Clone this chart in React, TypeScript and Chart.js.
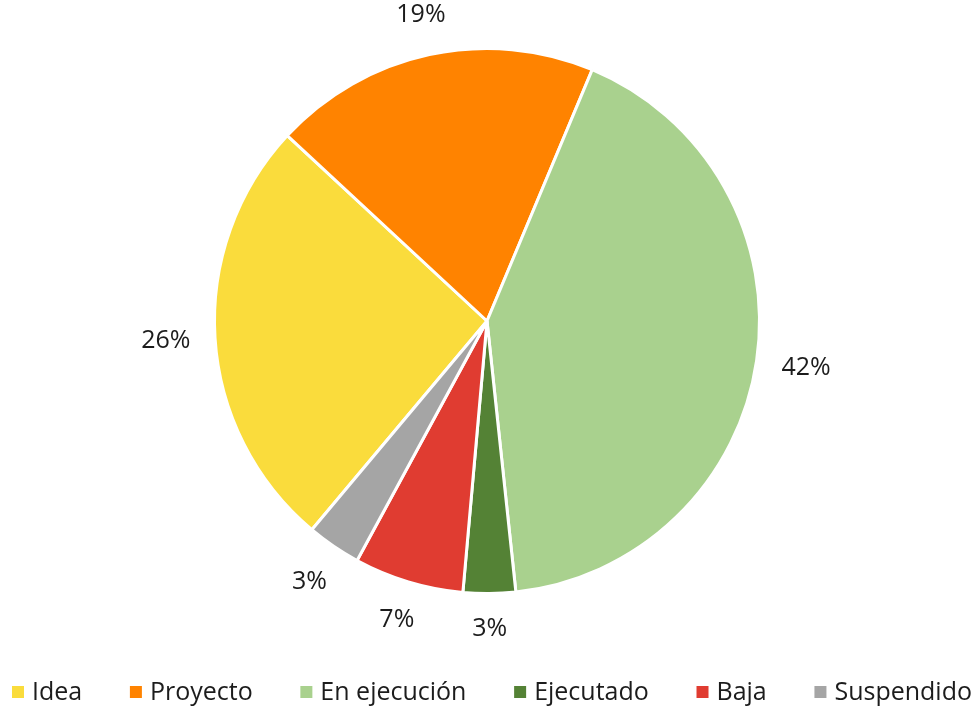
import React, { useEffect, useRef } from "react";
import { Chart, registerables } from "chart.js";

Chart.register(...registerables);

const categories = ["Idea", "Proyecto", "En ejecución", "Ejecutado", "Baja", "Suspendido"];
const values = [25.8, 19.4, 42.0, 3.1, 6.5, 3.2];
const colors = ["#FADC3C", "#FF8300", "#A9D18E", "#548235", "#E03C31", "#A5A5A5"];

const FONT = "'Open Sans', 'DejaVu Sans', sans-serif";
const TEXT_COLOR = "#1c1c1c";
const FONT_SIZE = 25;

const outsideLabels = {
  id: "outsideLabels",
  afterDatasetsDraw(chart: any) {
    const ctx = chart.ctx;
    const meta = chart.getDatasetMeta(0);
    const data = chart.data.datasets[0].data as number[];
    const total = data.reduce((a, b) => a + b, 0);
    ctx.save();
    ctx.font = `${FONT_SIZE}px ${FONT}`;
    ctx.fillStyle = TEXT_COLOR;
    ctx.textAlign = "center";
    ctx.textBaseline = "middle";
    meta.data.forEach((arc: any, i: number) => {
      const { x, y, startAngle, endAngle, outerRadius } = arc.getProps(
        ["x", "y", "startAngle", "endAngle", "outerRadius"],
        true
      );
      const mid = (startAngle + endAngle) / 2;
      const txt = Math.round((data[i] / total) * 100) + "%";
      const w = ctx.measureText(txt).width;
      const h = FONT_SIZE * 0.9;
      const c = Math.cos(mid);
      const s = Math.sin(mid);
      const d = outerRadius + 24 + Math.abs(c) * (w / 2) + Math.abs(s) * (h / 2);
      ctx.fillText(txt, x + c * d, y + s * d);
    });
    ctx.restore();
  },
};

const customLegend = {
  id: "customLegend",
  afterDraw(chart: any) {
    const ctx = chart.ctx;
    ctx.save();
    ctx.font = `${FONT_SIZE}px ${FONT}`;
    ctx.textBaseline = "middle";
    const box = 12;
    const gapBoxText = 8;
    const widths = categories.map((c) => box + gapBoxText + ctx.measureText(c).width);
    const left = 12;
    const right = 972;
    const sum = widths.reduce((a, b) => a + b, 0);
    const gapItems = (right - left - sum) / (categories.length - 1);
    let x = left;
    const y = 692;
    categories.forEach((c, i) => {
      ctx.fillStyle = colors[i];
      ctx.fillRect(x, y - box / 2, box, box);
      ctx.fillStyle = TEXT_COLOR;
      ctx.textAlign = "left";
      ctx.fillText(c, x + box + gapBoxText, y + 1);
      x += widths[i] + gapItems;
    });
    ctx.restore();
  },
};

export default function App() {
  const ref = useRef<HTMLCanvasElement>(null);
  useEffect(() => {
    if (!ref.current) return;
    const chart = new Chart(ref.current, {
      type: "pie",
      data: {
        labels: categories,
        datasets: [
          {
            data: values,
            backgroundColor: colors,
            borderColor: "#ffffff",
            borderWidth: 3,
          },
        ],
      },
      options: {
        animation: false,
        responsive: false,
        rotation: 220,
        layout: { padding: { top: 47, bottom: 113, left: 0, right: 4 } },
        plugins: {
          legend: { display: false },
          tooltip: { enabled: false },
        },
      },
      plugins: [outsideLabels, customLegend],
    });
    return () => chart.destroy();
  }, []);
  return (
    <div style={{ position: "absolute", left: 0, top: 0, width: 978, height: 708, background: "#fff" }}>
      <canvas ref={ref} width={978} height={708} style={{ width: 978, height: 708, display: "block" }} />
    </div>
  );
}
